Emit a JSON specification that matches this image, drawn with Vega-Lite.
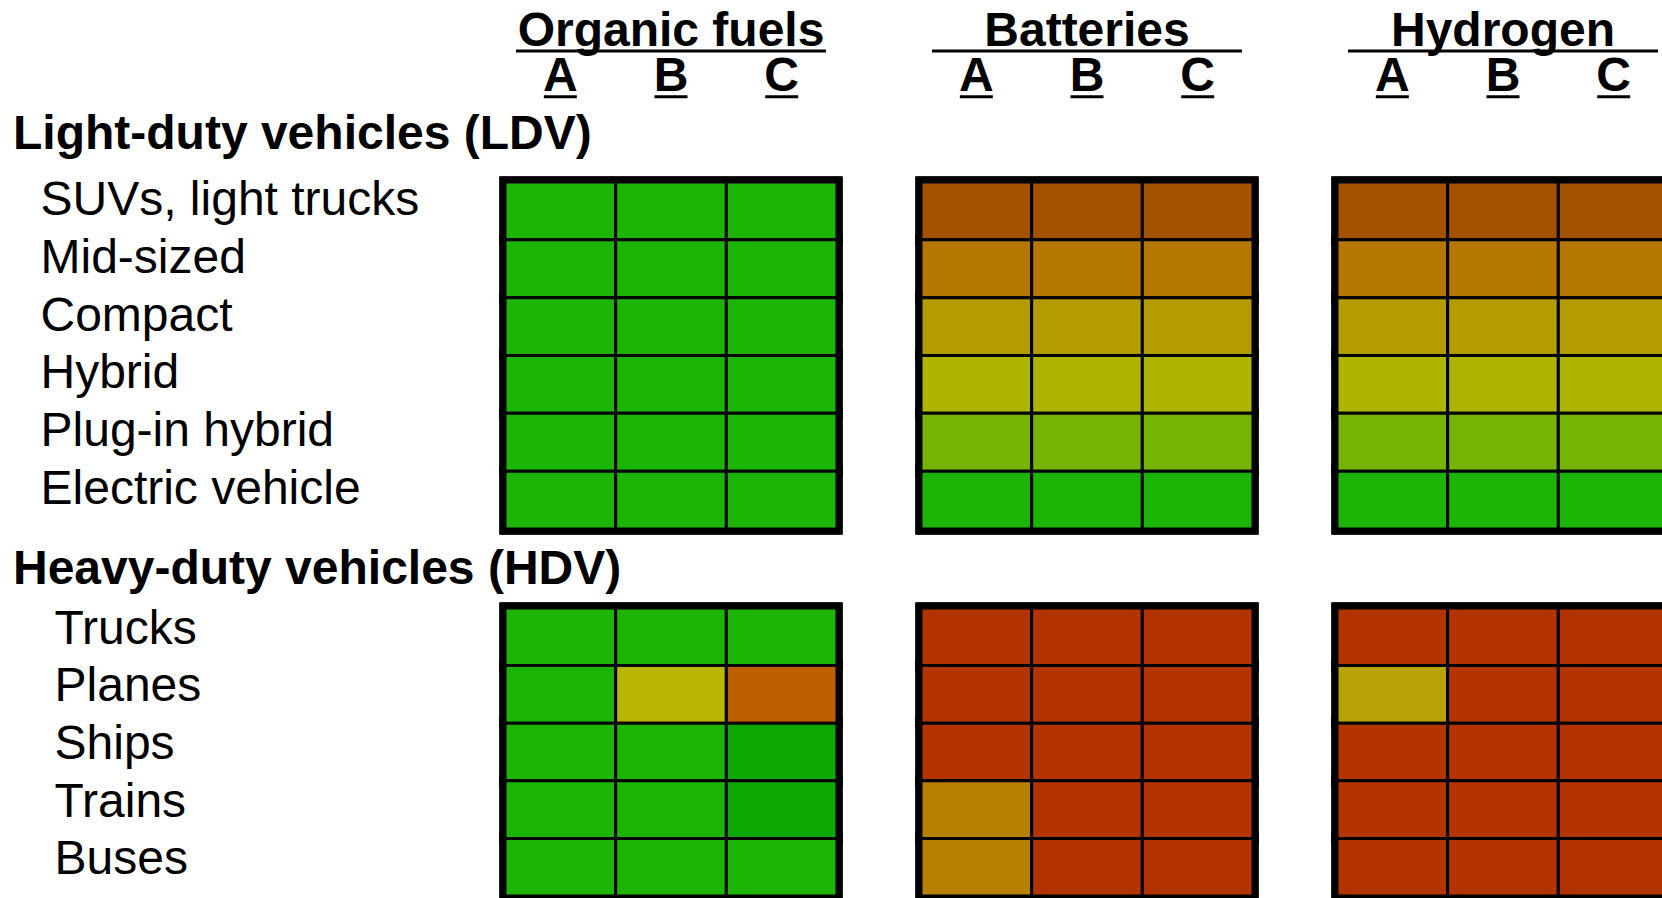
{
  "$schema": "https://vega.github.io/schema/vega-lite/v6.json",
  "padding": {"left": 13, "top": 0, "right": 0, "bottom": 0},
  "background": "white",
  "spacing": 10,
  "config": {
    "view": {"stroke": null},
    "font": "Liberation Sans",
    "title": {"font": "Liberation Sans", "fontSize": 48, "fontWeight": "bold", "color": "black", "anchor": "start", "frame": "bounds"}
  },
  "datasets": {
    "cells": [
      {"section": "LDV", "vehicle": "SUVs, light trucks", "tech": "Organic fuels", "col": "A", "rating": 1},
      {"section": "LDV", "vehicle": "SUVs, light trucks", "tech": "Organic fuels", "col": "B", "rating": 1},
      {"section": "LDV", "vehicle": "SUVs, light trucks", "tech": "Organic fuels", "col": "C", "rating": 1},
      {"section": "LDV", "vehicle": "Mid-sized", "tech": "Organic fuels", "col": "A", "rating": 1},
      {"section": "LDV", "vehicle": "Mid-sized", "tech": "Organic fuels", "col": "B", "rating": 1},
      {"section": "LDV", "vehicle": "Mid-sized", "tech": "Organic fuels", "col": "C", "rating": 1},
      {"section": "LDV", "vehicle": "Compact", "tech": "Organic fuels", "col": "A", "rating": 1},
      {"section": "LDV", "vehicle": "Compact", "tech": "Organic fuels", "col": "B", "rating": 1},
      {"section": "LDV", "vehicle": "Compact", "tech": "Organic fuels", "col": "C", "rating": 1},
      {"section": "LDV", "vehicle": "Hybrid", "tech": "Organic fuels", "col": "A", "rating": 1},
      {"section": "LDV", "vehicle": "Hybrid", "tech": "Organic fuels", "col": "B", "rating": 1},
      {"section": "LDV", "vehicle": "Hybrid", "tech": "Organic fuels", "col": "C", "rating": 1},
      {"section": "LDV", "vehicle": "Plug-in hybrid", "tech": "Organic fuels", "col": "A", "rating": 1},
      {"section": "LDV", "vehicle": "Plug-in hybrid", "tech": "Organic fuels", "col": "B", "rating": 1},
      {"section": "LDV", "vehicle": "Plug-in hybrid", "tech": "Organic fuels", "col": "C", "rating": 1},
      {"section": "LDV", "vehicle": "Electric vehicle", "tech": "Organic fuels", "col": "A", "rating": 1},
      {"section": "LDV", "vehicle": "Electric vehicle", "tech": "Organic fuels", "col": "B", "rating": 1},
      {"section": "LDV", "vehicle": "Electric vehicle", "tech": "Organic fuels", "col": "C", "rating": 1},
      {"section": "LDV", "vehicle": "SUVs, light trucks", "tech": "Batteries", "col": "A", "rating": 10},
      {"section": "LDV", "vehicle": "SUVs, light trucks", "tech": "Batteries", "col": "B", "rating": 10},
      {"section": "LDV", "vehicle": "SUVs, light trucks", "tech": "Batteries", "col": "C", "rating": 10},
      {"section": "LDV", "vehicle": "Mid-sized", "tech": "Batteries", "col": "A", "rating": 8},
      {"section": "LDV", "vehicle": "Mid-sized", "tech": "Batteries", "col": "B", "rating": 8},
      {"section": "LDV", "vehicle": "Mid-sized", "tech": "Batteries", "col": "C", "rating": 8},
      {"section": "LDV", "vehicle": "Compact", "tech": "Batteries", "col": "A", "rating": 6},
      {"section": "LDV", "vehicle": "Compact", "tech": "Batteries", "col": "B", "rating": 6},
      {"section": "LDV", "vehicle": "Compact", "tech": "Batteries", "col": "C", "rating": 6},
      {"section": "LDV", "vehicle": "Hybrid", "tech": "Batteries", "col": "A", "rating": 3},
      {"section": "LDV", "vehicle": "Hybrid", "tech": "Batteries", "col": "B", "rating": 3},
      {"section": "LDV", "vehicle": "Hybrid", "tech": "Batteries", "col": "C", "rating": 3},
      {"section": "LDV", "vehicle": "Plug-in hybrid", "tech": "Batteries", "col": "A", "rating": 2},
      {"section": "LDV", "vehicle": "Plug-in hybrid", "tech": "Batteries", "col": "B", "rating": 2},
      {"section": "LDV", "vehicle": "Plug-in hybrid", "tech": "Batteries", "col": "C", "rating": 2},
      {"section": "LDV", "vehicle": "Electric vehicle", "tech": "Batteries", "col": "A", "rating": 1},
      {"section": "LDV", "vehicle": "Electric vehicle", "tech": "Batteries", "col": "B", "rating": 1},
      {"section": "LDV", "vehicle": "Electric vehicle", "tech": "Batteries", "col": "C", "rating": 1},
      {"section": "LDV", "vehicle": "SUVs, light trucks", "tech": "Hydrogen", "col": "A", "rating": 10},
      {"section": "LDV", "vehicle": "SUVs, light trucks", "tech": "Hydrogen", "col": "B", "rating": 10},
      {"section": "LDV", "vehicle": "SUVs, light trucks", "tech": "Hydrogen", "col": "C", "rating": 10},
      {"section": "LDV", "vehicle": "Mid-sized", "tech": "Hydrogen", "col": "A", "rating": 8},
      {"section": "LDV", "vehicle": "Mid-sized", "tech": "Hydrogen", "col": "B", "rating": 8},
      {"section": "LDV", "vehicle": "Mid-sized", "tech": "Hydrogen", "col": "C", "rating": 8},
      {"section": "LDV", "vehicle": "Compact", "tech": "Hydrogen", "col": "A", "rating": 6},
      {"section": "LDV", "vehicle": "Compact", "tech": "Hydrogen", "col": "B", "rating": 6},
      {"section": "LDV", "vehicle": "Compact", "tech": "Hydrogen", "col": "C", "rating": 6},
      {"section": "LDV", "vehicle": "Hybrid", "tech": "Hydrogen", "col": "A", "rating": 3},
      {"section": "LDV", "vehicle": "Hybrid", "tech": "Hydrogen", "col": "B", "rating": 3},
      {"section": "LDV", "vehicle": "Hybrid", "tech": "Hydrogen", "col": "C", "rating": 3},
      {"section": "LDV", "vehicle": "Plug-in hybrid", "tech": "Hydrogen", "col": "A", "rating": 2},
      {"section": "LDV", "vehicle": "Plug-in hybrid", "tech": "Hydrogen", "col": "B", "rating": 2},
      {"section": "LDV", "vehicle": "Plug-in hybrid", "tech": "Hydrogen", "col": "C", "rating": 2},
      {"section": "LDV", "vehicle": "Electric vehicle", "tech": "Hydrogen", "col": "A", "rating": 1},
      {"section": "LDV", "vehicle": "Electric vehicle", "tech": "Hydrogen", "col": "B", "rating": 1},
      {"section": "LDV", "vehicle": "Electric vehicle", "tech": "Hydrogen", "col": "C", "rating": 1},
      {"section": "HDV", "vehicle": "Trucks", "tech": "Organic fuels", "col": "A", "rating": 1},
      {"section": "HDV", "vehicle": "Trucks", "tech": "Organic fuels", "col": "B", "rating": 1},
      {"section": "HDV", "vehicle": "Trucks", "tech": "Organic fuels", "col": "C", "rating": 1},
      {"section": "HDV", "vehicle": "Planes", "tech": "Organic fuels", "col": "A", "rating": 1},
      {"section": "HDV", "vehicle": "Planes", "tech": "Organic fuels", "col": "B", "rating": 4},
      {"section": "HDV", "vehicle": "Planes", "tech": "Organic fuels", "col": "C", "rating": 9},
      {"section": "HDV", "vehicle": "Ships", "tech": "Organic fuels", "col": "A", "rating": 1},
      {"section": "HDV", "vehicle": "Ships", "tech": "Organic fuels", "col": "B", "rating": 1},
      {"section": "HDV", "vehicle": "Ships", "tech": "Organic fuels", "col": "C", "rating": 0},
      {"section": "HDV", "vehicle": "Trains", "tech": "Organic fuels", "col": "A", "rating": 1},
      {"section": "HDV", "vehicle": "Trains", "tech": "Organic fuels", "col": "B", "rating": 1},
      {"section": "HDV", "vehicle": "Trains", "tech": "Organic fuels", "col": "C", "rating": 0},
      {"section": "HDV", "vehicle": "Buses", "tech": "Organic fuels", "col": "A", "rating": 1},
      {"section": "HDV", "vehicle": "Buses", "tech": "Organic fuels", "col": "B", "rating": 1},
      {"section": "HDV", "vehicle": "Buses", "tech": "Organic fuels", "col": "C", "rating": 1},
      {"section": "HDV", "vehicle": "Trucks", "tech": "Batteries", "col": "A", "rating": 11},
      {"section": "HDV", "vehicle": "Trucks", "tech": "Batteries", "col": "B", "rating": 11},
      {"section": "HDV", "vehicle": "Trucks", "tech": "Batteries", "col": "C", "rating": 11},
      {"section": "HDV", "vehicle": "Planes", "tech": "Batteries", "col": "A", "rating": 11},
      {"section": "HDV", "vehicle": "Planes", "tech": "Batteries", "col": "B", "rating": 11},
      {"section": "HDV", "vehicle": "Planes", "tech": "Batteries", "col": "C", "rating": 11},
      {"section": "HDV", "vehicle": "Ships", "tech": "Batteries", "col": "A", "rating": 11},
      {"section": "HDV", "vehicle": "Ships", "tech": "Batteries", "col": "B", "rating": 11},
      {"section": "HDV", "vehicle": "Ships", "tech": "Batteries", "col": "C", "rating": 11},
      {"section": "HDV", "vehicle": "Trains", "tech": "Batteries", "col": "A", "rating": 7},
      {"section": "HDV", "vehicle": "Trains", "tech": "Batteries", "col": "B", "rating": 11},
      {"section": "HDV", "vehicle": "Trains", "tech": "Batteries", "col": "C", "rating": 11},
      {"section": "HDV", "vehicle": "Buses", "tech": "Batteries", "col": "A", "rating": 7},
      {"section": "HDV", "vehicle": "Buses", "tech": "Batteries", "col": "B", "rating": 11},
      {"section": "HDV", "vehicle": "Buses", "tech": "Batteries", "col": "C", "rating": 11},
      {"section": "HDV", "vehicle": "Trucks", "tech": "Hydrogen", "col": "A", "rating": 11},
      {"section": "HDV", "vehicle": "Trucks", "tech": "Hydrogen", "col": "B", "rating": 11},
      {"section": "HDV", "vehicle": "Trucks", "tech": "Hydrogen", "col": "C", "rating": 11},
      {"section": "HDV", "vehicle": "Planes", "tech": "Hydrogen", "col": "A", "rating": 5},
      {"section": "HDV", "vehicle": "Planes", "tech": "Hydrogen", "col": "B", "rating": 11},
      {"section": "HDV", "vehicle": "Planes", "tech": "Hydrogen", "col": "C", "rating": 11},
      {"section": "HDV", "vehicle": "Ships", "tech": "Hydrogen", "col": "A", "rating": 11},
      {"section": "HDV", "vehicle": "Ships", "tech": "Hydrogen", "col": "B", "rating": 11},
      {"section": "HDV", "vehicle": "Ships", "tech": "Hydrogen", "col": "C", "rating": 11},
      {"section": "HDV", "vehicle": "Trains", "tech": "Hydrogen", "col": "A", "rating": 11},
      {"section": "HDV", "vehicle": "Trains", "tech": "Hydrogen", "col": "B", "rating": 11},
      {"section": "HDV", "vehicle": "Trains", "tech": "Hydrogen", "col": "C", "rating": 11},
      {"section": "HDV", "vehicle": "Buses", "tech": "Hydrogen", "col": "A", "rating": 11},
      {"section": "HDV", "vehicle": "Buses", "tech": "Hydrogen", "col": "B", "rating": 11},
      {"section": "HDV", "vehicle": "Buses", "tech": "Hydrogen", "col": "C", "rating": 11}
    ]
  },
  "vconcat": [
    {
      "width": 1164,
      "height": 98,
      "data": {"name": "cells"},
      "transform": [{"filter": "datum.section == 'LDV' && datum.vehicle == 'SUVs, light trucks'"}],
      "encoding": {
        "x": {"field": "tech", "type": "nominal", "scale": {"domain": ["Organic fuels", "Batteries", "Hydrogen"], "paddingInner": 0.2019, "paddingOuter": 0}, "axis": null}
      },
      "layer": [
        {
          "transform": [{"filter": "datum.col == 'A'"}],
          "mark": {"type": "text", "font": "Liberation Sans", "fontSize": 48, "fontWeight": "bold", "color": "black", "baseline": "alphabetic", "align": "center"},
          "encoding": {
            "text": {"field": "tech"},
            "y": {"datum": "name", "type": "nominal", "bandPosition": 0.93, "scale": {"domain": ["name", "letter"], "paddingInner": 0, "paddingOuter": 0}, "axis": null}
          }
        },
        {
          "transform": [{"filter": "datum.col == 'A'"}],
          "mark": {"type": "tick", "orient": "horizontal", "size": 310, "thickness": 3, "color": "black", "opacity": 1},
          "encoding": {
            "y": {"datum": "letter", "type": "nominal", "bandPosition": 0.04, "scale": {"domain": ["name", "letter"], "paddingInner": 0, "paddingOuter": 0}, "axis": null}
          }
        },
        {
          "mark": {"type": "text", "font": "Liberation Sans", "fontSize": 48, "fontWeight": "bold", "color": "black", "baseline": "alphabetic", "align": "center"},
          "encoding": {
            "xOffset": {"field": "col", "type": "nominal", "scale": {"domain": ["A", "B", "C"], "paddingInner": 0, "paddingOuter": 0}},
            "text": {"field": "col"},
            "y": {"datum": "letter", "type": "nominal", "bandPosition": 0.85, "scale": {"domain": ["name", "letter"], "paddingInner": 0, "paddingOuter": 0}, "axis": null}
          }
        },
        {
          "mark": {"type": "tick", "orient": "horizontal", "size": 33, "thickness": 3, "color": "black", "opacity": 1},
          "encoding": {
            "xOffset": {"field": "col", "type": "nominal", "scale": {"domain": ["A", "B", "C"], "paddingInner": 0, "paddingOuter": 0}},
            "y": {"datum": "letter", "type": "nominal", "bandPosition": 0.975, "scale": {"domain": ["name", "letter"], "paddingInner": 0, "paddingOuter": 0}, "axis": null}
          }
        }
      ]
    },
    {
      "title": {"text": "Light-duty vehicles (LDV)", "offset": 17, "dx": -27},
      "width": 1164,
      "height": 347,
      "data": {"name": "cells"},
      "transform": [{"filter": "datum.section == 'LDV'"}],
      "encoding": {
        "x": {"field": "tech", "type": "nominal", "scale": {"domain": ["Organic fuels", "Batteries", "Hydrogen"], "paddingInner": 0.2019, "paddingOuter": 0}, "axis": null},
        "y": {
          "field": "vehicle", "type": "nominal",
          "scale": {"domain": ["SUVs, light trucks", "Mid-sized", "Compact", "Hybrid", "Plug-in hybrid", "Electric vehicle"], "paddingInner": 0, "paddingOuter": 0},
          "axis": {"title": null, "orient": "left", "domain": false, "ticks": false, "tickSize": 0, "labelAlign": "left", "labelBaseline": "alphabetic", "labelOffset": 4, "labelPadding": 465, "labelLimit": 0, "labelFont": "Liberation Sans", "labelFontSize": 48, "labelColor": "black"}
        }
      },
      "layer": [
        {"mark": {"type": "rect", "fill": "black", "stroke": "black", "strokeWidth": 11, "opacity": 1}},
        {
          "mark": {"type": "rect", "stroke": "black", "strokeWidth": 3, "opacity": 1},
          "encoding": {
            "xOffset": {"field": "col", "type": "nominal", "scale": {"domain": ["A", "B", "C"], "paddingInner": 0, "paddingOuter": 0}},
            "color": {"field": "rating", "type": "ordinal", "legend": null, "scale": {"domain": [0, 1, 2, 3, 4, 5, 6, 7, 8, 9, 10, 11], "range": ["#0ea904", "#1db505", "#75b502", "#adb500", "#b8b505", "#b8a207", "#b49c00", "#b78000", "#b57700", "#bf6000", "#a35200", "#b33400"]}}
          }
        }
      ]
    },
    {
      "title": {"text": "Heavy-duty vehicles (HDV)", "offset": 9, "dx": -41},
      "width": 1164,
      "height": 288,
      "data": {"name": "cells"},
      "transform": [{"filter": "datum.section == 'HDV'"}],
      "encoding": {
        "x": {"field": "tech", "type": "nominal", "scale": {"domain": ["Organic fuels", "Batteries", "Hydrogen"], "paddingInner": 0.2019, "paddingOuter": 0}, "axis": null},
        "y": {
          "field": "vehicle", "type": "nominal",
          "scale": {"domain": ["Trucks", "Planes", "Ships", "Trains", "Buses"], "paddingInner": 0, "paddingOuter": 0},
          "axis": {"title": null, "orient": "left", "domain": false, "ticks": false, "tickSize": 0, "labelAlign": "left", "labelBaseline": "alphabetic", "labelOffset": 7, "labelPadding": 451, "labelLimit": 0, "labelFont": "Liberation Sans", "labelFontSize": 48, "labelColor": "black"}
        }
      },
      "layer": [
        {"mark": {"type": "rect", "fill": "black", "stroke": "black", "strokeWidth": 11, "opacity": 1}},
        {
          "mark": {"type": "rect", "stroke": "black", "strokeWidth": 3, "opacity": 1},
          "encoding": {
            "xOffset": {"field": "col", "type": "nominal", "scale": {"domain": ["A", "B", "C"], "paddingInner": 0, "paddingOuter": 0}},
            "color": {"field": "rating", "type": "ordinal", "legend": null, "scale": {"domain": [0, 1, 2, 3, 4, 5, 6, 7, 8, 9, 10, 11], "range": ["#0ea904", "#1db505", "#75b502", "#adb500", "#b8b505", "#b8a207", "#b49c00", "#b78000", "#b57700", "#bf6000", "#a35200", "#b33400"]}}
          }
        }
      ]
    }
  ]
}
